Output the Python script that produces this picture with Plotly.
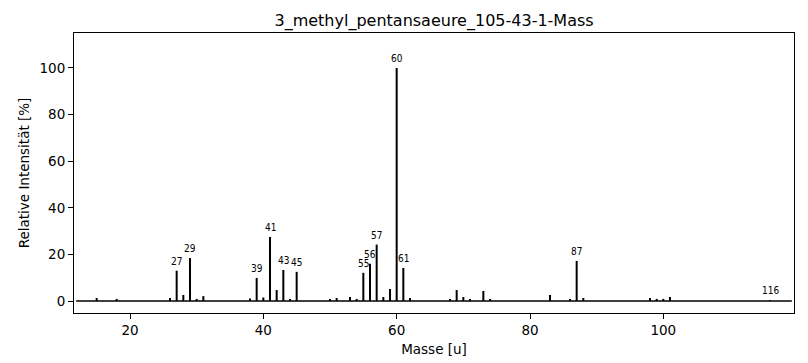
import plotly.graph_objects as go

masses = [15, 18, 26, 27, 28, 29, 30, 31, 38, 39, 40, 41, 42, 43, 44, 45,
          50, 51, 53, 54, 55, 56, 57, 58, 59, 60, 61, 62, 68, 69, 70, 71,
          73, 74, 83, 86, 87, 88, 98, 99, 100, 101, 116]
intensities = [1.3, 0.9, 1.3, 13.0, 2.6, 18.5, 0.9, 2.1, 1.1, 9.9, 1.5, 27.5,
               4.7, 13.3, 0.9, 12.5, 0.9, 1.3, 1.7, 0.9, 12.1, 16.0, 24.2, 1.7,
               5.2, 100.0, 14.2, 1.3, 0.9, 4.7, 1.7, 0.9, 4.3, 0.9, 2.6, 0.9,
               17.2, 1.3, 1.3, 0.9, 0.9, 1.7, 0.3]
labeled_masses = [27, 29, 39, 41, 43, 45, 55, 56, 57, 60, 61, 87, 116]
x_ticks = [20, 40, 60, 80, 100]
y_ticks = [0, 20, 40, 60, 80, 100]

title_text = "3_methyl_pentansaeure_105-43-1-Mass"

xs, ys = [], []
for m, v in zip(masses, intensities):
    xs += [m, m, None]
    ys += [0, v, None]

fig = go.Figure()
fig.add_trace(go.Scatter(x=xs, y=ys, mode="lines",
                         line=dict(color="black", width=2),
                         hoverinfo="skip", showlegend=False))

fig.add_shape(type="line", xref="paper", yref="y", x0=0.003, x1=0.997,
              y0=0, y1=0, line=dict(color="black", width=1.5))

lookup = dict(zip(masses, intensities))
for m in labeled_masses:
    fig.add_annotation(x=m, y=lookup[m], text=str(m), showarrow=False,
                       yanchor="bottom", xanchor="center", yshift=2,
                       font=dict(family="DejaVu Sans Condensed, DejaVu Sans",
                                 size=10, color="black"))

font_main = "DejaVu Sans"
fig.update_layout(
    width=808, height=363,
    margin=dict(l=74, r=14, t=33, b=50, autoexpand=False),
    paper_bgcolor="white", plot_bgcolor="white",
    title=dict(text=title_text, x=0.5372, xanchor="center",
               y=1 - 20 / 363, yanchor="middle", yref="container",
               font=dict(family=font_main, size=16, color="black")),
    font=dict(family=font_main, color="black"),
    xaxis=dict(range=[11.6, 119.6], tickvals=x_ticks, ticks="outside",
               ticklen=5, tickwidth=1, tickcolor="black", automargin=False,
               showline=True, mirror=True, linecolor="black", linewidth=1,
               showgrid=False, zeroline=False,
               tickfont=dict(size=13.5),
               title=dict(text="Masse [u]", font=dict(size=13.5), standoff=7)),
    yaxis=dict(range=[-5.15, 115], tickvals=y_ticks, ticks="outside",
               ticklen=5, tickwidth=1, tickcolor="black", automargin=False,
               showline=True, mirror=True, linecolor="black", linewidth=1,
               showgrid=False, zeroline=False,
               tickfont=dict(size=13.5),
               title=dict(text="Relative Intensität [%]", font=dict(size=13.5),
                          standoff=6)),
)

fig.write_html("out.html", config={"displayModeBar": False},
               post_script="document.body.style.margin='0';"
                           "document.body.style.padding='0';")
